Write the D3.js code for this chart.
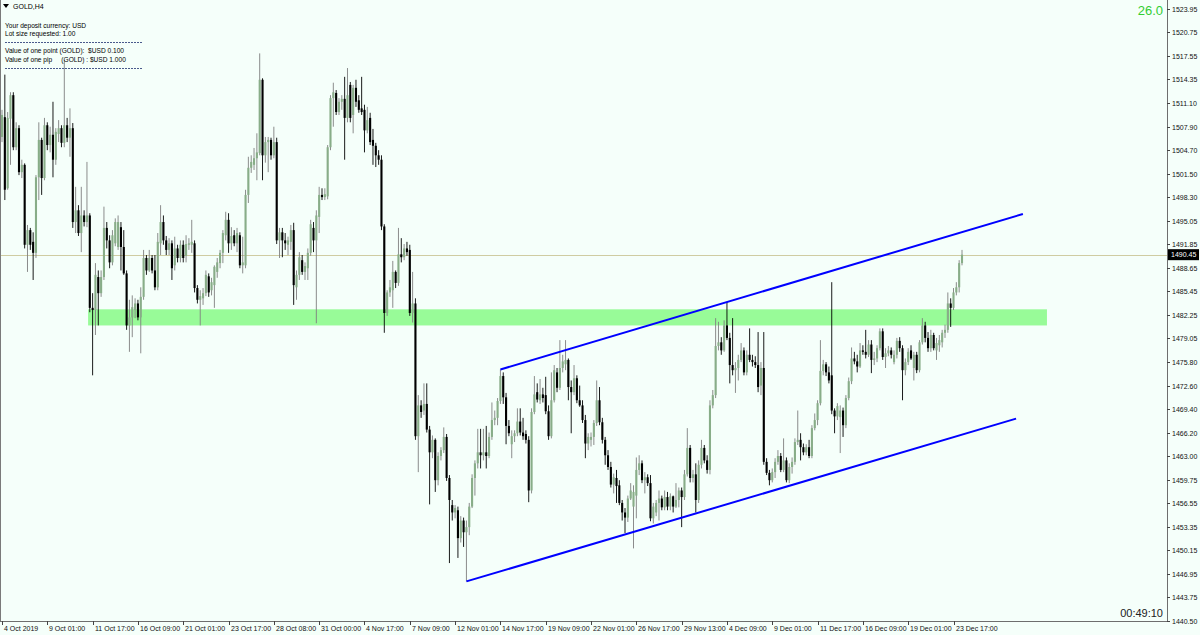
<!DOCTYPE html>
<html><head><meta charset="utf-8">
<script src="https://cdn.jsdelivr.net/npm/d3@7"></script>
<style>
html,body{margin:0;padding:0;background:#f5fffa;overflow:hidden;}
svg{display:block;}
text{font-family:"Liberation Sans",Arial,sans-serif;}
</style></head><body>
<svg id="chart" width="1200" height="635"></svg>
<script>
// ---------------- data (GOLD, H4) ----------------
const open = [
1506.5,1509.2,1499.5,1509.0,1512.2,1505.1,1507.7,1501.7,1502.7,1491.8,
1493.8,1492.2,1490.7,1501.0,1506.1,1500.9,1508.1,1505.4,1506.8,1503.4,
1506.9,1507.7,1505.7,1508.1,1506.4,1507.7,1494.9,1496.5,1493.4,1495.8,
1494.9,1495.8,1483.2,1482.9,1487.4,1485.2,1487.4,1494.1,1492.4,1489.4,
1492.0,1491.5,1494.2,1491.5,1487.9,1480.8,1481.9,1482.9,1483.8,1481.9,
1484.7,1490.0,1488.3,1490.0,1488.3,1486.0,1492.0,1494.9,1492.4,1491.1,
1492.0,1489.0,1491.3,1490.0,1491.8,1490.3,1491.8,1491.8,1492.0,1485.9,
1484.3,1484.5,1485.2,1487.5,1485.6,1486.3,1488.1,1489.3,1490.7,1493.1,
1495.2,1492.0,1493.1,1492.0,1493.1,1489.0,1489.0,1498.6,1502.3,1502.7,
1503.6,1504.3,1514.3,1504.0,1505.8,1506.1,1504.0,1505.8,1492.4,1493.5,
1492.4,1491.8,1492.2,1493.8,1486.0,1487.7,1489.7,1488.1,1488.6,1490.7,
1494.1,1492.4,1495.6,1498.6,1498.3,1498.4,1505.1,1511.8,1512.5,1509.9,
1511.3,1511.7,1509.1,1513.6,1509.5,1513.2,1511.5,1510.4,1510.2,1507.4,
1509.1,1506.1,1505.3,1504.0,1503.4,1494.3,1482.5,1485.3,1485.6,1488.1,
1486.6,1490.5,1490.1,1491.3,1491.1,1482.5,1483.8,1465.7,1469.9,1469.2,
1470.1,1466.6,1463.5,1465.2,1459.7,1463.0,1463.8,1465.6,1460.0,1456.3,
1455.3,1455.6,1451.8,1454.2,1452.6,1453.3,1456.1,1460.0,1462.0,1463.5,
1463.1,1463.5,1463.0,1465.6,1467.9,1468.2,1470.5,1473.9,1471.0,1467.1,
1464.6,1465.7,1466.1,1467.7,1466.2,1466.0,1465.2,1458.3,1469.0,1471.7,
1470.6,1471.4,1471.3,1469.1,1465.7,1470.6,1474.4,1472.3,1475.0,1475.5,
1476.1,1472.4,1471.7,1473.6,1470.6,1469.9,1467.9,1464.7,1465.2,1465.6,
1467.5,1470.6,1467.6,1465.2,1463.1,1461.5,1459.1,1460.0,1459.0,1456.6,
1455.3,1454.6,1457.2,1456.1,1457.6,1461.1,1462.0,1459.7,1460.1,1459.3,
1454.5,1455.3,1456.6,1457.2,1456.0,1457.4,1456.1,1457.5,1456.1,1457.0,
1458.3,1457.4,1460.5,1464.1,1460.0,1460.5,1457.0,1461.8,1464.1,1462.4,
1461.1,1469.9,1471.3,1478.0,1478.5,1477.4,1480.8,1479.1,1475.4,1474.7,
1475.0,1476.1,1477.4,1474.4,1476.8,1476.1,1475.8,1475.4,1472.6,1475.0,
1462.2,1460.7,1459.7,1460.8,1462.2,1463.0,1461.1,1462.4,1459.7,1461.5,
1462.2,1464.9,1465.2,1464.2,1463.5,1464.2,1463.0,1466.8,1467.9,1470.2,
1474.6,1475.5,1474.4,1474.0,1469.2,1468.4,1468.3,1469.2,1467.2,1470.9,
1473.2,1476.3,1475.9,1475.2,1477.4,1477.2,1476.8,1478.2,1476.1,1476.3,
1477.7,1480.0,1476.5,1477.0,1477.4,1475.8,1476.8,1478.7,1477.7,1474.7,
1475.8,1477.4,1475.0,1476.8,1474.7,1478.5,1480.8,1479.1,1477.7,1479.5,
1477.4,1478.1,1478.5,1479.8,1480.2,1483.8,1483.2,1485.3,1486.0,1489.3];
const high = [
1510.2,1515.0,1509.9,1512.6,1512.6,1508.5,1508.1,1503.4,1502.9,1494.5,
1494.1,1493.5,1501.3,1508.5,1506.4,1509.1,1508.5,1507.9,1511.3,1507.7,
1508.8,1508.1,1517.0,1509.1,1510.4,1508.4,1499.7,1497.2,1499.7,1496.5,
1503.1,1496.1,1485.2,1489.3,1488.3,1488.3,1497.0,1494.9,1493.1,1493.8,
1495.4,1495.8,1494.9,1493.8,1488.3,1484.3,1484.9,1484.5,1484.3,1486.0,
1491.1,1490.4,1491.1,1490.4,1490.4,1493.4,1497.2,1495.8,1493.0,1492.7,
1492.4,1492.9,1491.8,1492.4,1492.4,1493.1,1492.7,1495.2,1492.4,1486.3,
1485.6,1485.9,1488.3,1487.9,1487.3,1489.0,1490.0,1491.1,1493.8,1496.3,
1496.1,1494.2,1493.8,1494.1,1493.5,1492.9,1499.3,1503.8,1504.0,1505.0,
1507.0,1517.9,1514.5,1506.5,1506.5,1506.4,1507.9,1506.4,1494.1,1494.1,
1493.4,1492.9,1494.5,1494.8,1488.3,1490.8,1490.4,1489.4,1491.3,1495.2,
1494.9,1496.5,1499.7,1499.5,1499.5,1505.4,1512.2,1513.9,1512.9,1511.8,
1512.2,1514.7,1515.9,1514.0,1513.6,1514.3,1512.2,1514.7,1510.9,1510.6,
1509.8,1507.6,1505.7,1504.7,1504.0,1494.6,1485.6,1487.0,1489.6,1488.3,
1494.1,1492.7,1491.9,1492.2,1491.8,1488.1,1484.5,1471.3,1470.6,1472.9,
1472.9,1467.1,1465.8,1465.4,1463.5,1464.2,1466.9,1466.0,1460.4,1457.0,
1456.3,1456.1,1454.8,1454.6,1454.2,1456.6,1460.5,1462.4,1466.7,1466.7,
1466.7,1467.1,1466.2,1470.3,1469.2,1470.9,1474.8,1474.4,1471.6,1467.9,
1466.5,1466.5,1469.5,1469.5,1468.2,1466.5,1465.7,1469.5,1473.9,1472.9,
1473.5,1472.3,1473.8,1469.9,1474.4,1475.4,1475.0,1478.8,1476.8,1478.8,
1476.3,1473.3,1475.4,1474.0,1472.6,1470.6,1468.6,1466.1,1466.2,1467.9,
1473.3,1472.4,1468.2,1465.6,1463.8,1462.2,1460.6,1461.1,1459.7,1457.0,
1455.9,1457.6,1459.3,1459.0,1462.8,1463.1,1462.4,1460.8,1460.5,1460.4,
1456.6,1457.0,1458.3,1457.6,1458.3,1458.1,1457.9,1457.6,1459.3,1458.7,
1458.7,1461.1,1466.8,1464.5,1461.1,1462.0,1462.4,1465.2,1464.5,1463.1,
1470.6,1472.0,1481.8,1481.3,1479.2,1481.5,1484.0,1479.8,1481.8,1475.8,
1476.8,1478.4,1477.8,1477.4,1480.4,1476.8,1476.6,1479.9,1475.8,1479.9,
1462.7,1461.1,1461.3,1462.7,1463.8,1463.4,1465.4,1462.8,1462.0,1462.8,
1465.4,1469.2,1466.1,1464.7,1464.6,1465.2,1467.2,1468.8,1470.6,1478.8,
1476.1,1475.8,1475.2,1486.7,1469.5,1470.2,1469.9,1469.6,1471.3,1473.7,
1477.8,1477.2,1476.8,1478.4,1478.1,1480.2,1478.8,1478.8,1477.2,1478.1,
1480.4,1480.4,1477.7,1478.0,1477.8,1477.4,1479.1,1479.2,1478.1,1476.3,
1477.7,1478.1,1477.2,1477.2,1478.8,1481.8,1481.3,1479.9,1480.2,1479.8,
1479.1,1479.5,1480.2,1480.9,1485.3,1484.5,1485.9,1486.7,1489.7,1491.1];
const low = [
1505.8,1497.9,1499.3,1502.7,1504.7,1504.7,1501.3,1500.9,1491.3,1488.1,
1491.1,1487.0,1490.0,1497.9,1498.6,1500.6,1504.7,1504.4,1501.0,1502.7,
1505.8,1505.1,1505.1,1505.8,1503.8,1494.1,1493.4,1493.0,1490.8,1494.3,
1494.2,1482.6,1474.0,1479.5,1480.8,1484.7,1487.0,1491.3,1488.6,1489.0,
1491.6,1491.1,1488.3,1487.7,1480.2,1477.2,1479.2,1481.8,1481.5,1477.0,
1484.3,1487.7,1488.1,1487.9,1485.6,1485.6,1490.4,1491.8,1490.4,1490.4,
1487.0,1488.3,1489.4,1489.4,1489.4,1489.4,1491.1,1490.7,1485.3,1483.8,
1480.8,1483.6,1484.8,1484.7,1484.9,1483.2,1487.3,1488.6,1489.3,1492.4,
1490.7,1491.1,1491.6,1490.8,1488.6,1487.9,1488.6,1497.5,1501.6,1502.0,
1500.6,1504.0,1500.6,1503.0,1501.7,1503.4,1503.6,1491.9,1490.0,1490.1,
1491.1,1490.4,1491.1,1483.6,1484.3,1487.0,1487.7,1487.0,1487.0,1490.3,
1490.8,1481.1,1493.4,1497.9,1497.9,1498.0,1504.7,1507.9,1509.5,1509.5,
1510.2,1503.4,1508.5,1508.5,1507.0,1510.6,1509.8,1509.5,1504.4,1507.0,
1505.4,1502.7,1502.4,1502.7,1493.8,1479.8,1482.1,1484.7,1483.2,1485.9,
1486.2,1489.4,1489.7,1490.3,1482.1,1481.2,1465.2,1460.8,1468.2,1468.6,
1466.2,1456.4,1462.7,1458.1,1459.0,1462.4,1463.4,1459.6,1448.4,1454.2,
1454.5,1449.1,1451.2,1450.6,1445.9,1452.2,1455.9,1457.6,1461.3,1461.3,
1462.4,1461.3,1462.7,1465.2,1467.2,1467.2,1470.1,1470.1,1464.6,1465.7,
1462.7,1464.9,1465.7,1465.8,1465.2,1464.7,1456.7,1457.9,1468.7,1470.3,
1470.1,1470.3,1468.7,1465.2,1465.4,1470.3,1471.7,1472.0,1474.4,1474.7,
1470.6,1466.1,1471.3,1470.2,1469.7,1467.5,1462.7,1463.8,1464.3,1464.5,
1467.1,1467.2,1464.7,1461.8,1461.1,1458.7,1457.9,1456.6,1456.3,1454.2,
1452.5,1454.0,1457.0,1450.4,1454.5,1460.4,1459.3,1457.9,1458.9,1454.1,
1453.8,1454.8,1454.2,1455.6,1455.6,1455.6,1455.6,1455.3,1455.9,1456.0,
1453.3,1457.0,1460.2,1459.4,1459.4,1455.3,1456.6,1461.3,1462.0,1460.6,
1460.5,1469.5,1470.9,1477.4,1476.8,1477.2,1478.8,1472.9,1474.0,1471.6,
1473.3,1475.8,1474.0,1474.0,1475.8,1475.2,1475.0,1471.7,1471.3,1461.8,
1460.4,1459.0,1459.4,1460.0,1461.8,1460.8,1460.8,1459.4,1459.3,1460.6,
1461.8,1464.5,1462.4,1463.1,1463.1,1462.7,1462.7,1466.5,1467.2,1469.9,
1474.0,1473.9,1472.9,1468.7,1466.1,1467.9,1463.4,1465.6,1466.8,1470.6,
1472.8,1475.5,1474.4,1475.0,1476.8,1476.3,1476.5,1474.3,1475.4,1475.8,
1477.4,1476.1,1475.0,1476.6,1476.3,1475.5,1476.3,1477.2,1470.6,1474.0,
1475.4,1476.1,1473.3,1474.3,1474.4,1478.2,1478.5,1477.2,1477.2,1477.4,
1476.1,1477.2,1477.8,1479.1,1479.8,1480.6,1482.9,1484.9,1485.3,1489.0];
const close = [
1509.5,1499.3,1509.1,1512.2,1505.1,1507.7,1501.7,1502.7,1491.8,1493.8,
1491.8,1490.7,1501.0,1506.1,1500.9,1508.1,1505.4,1506.8,1503.4,1507.2,
1507.7,1505.7,1508.1,1506.4,1507.7,1494.9,1496.5,1493.4,1495.8,1494.9,
1495.8,1483.2,1482.9,1487.7,1485.2,1487.4,1494.1,1492.4,1489.4,1493.1,
1494.9,1494.9,1491.5,1487.9,1480.8,1481.9,1483.3,1483.8,1481.9,1484.7,
1490.0,1488.3,1490.0,1488.3,1486.0,1492.2,1494.9,1492.4,1491.1,1492.0,
1488.6,1491.3,1490.0,1491.8,1490.0,1491.9,1492.0,1492.2,1485.9,1484.3,
1484.8,1485.2,1487.7,1485.3,1486.7,1488.8,1489.4,1490.7,1493.4,1495.2,
1492.0,1493.0,1492.0,1493.4,1489.0,1489.4,1498.6,1502.3,1503.1,1503.6,
1504.4,1514.3,1504.0,1505.8,1506.1,1504.0,1505.8,1492.4,1493.5,1492.4,
1492.0,1492.4,1493.8,1486.3,1487.7,1490.1,1488.1,1488.9,1490.7,1494.6,
1492.4,1495.8,1498.6,1498.3,1498.7,1505.1,1511.8,1512.6,1509.9,1511.3,
1511.7,1509.1,1512.2,1509.1,1513.2,1511.3,1510.2,1509.9,1507.4,1508.8,
1505.8,1505.3,1504.0,1503.4,1494.3,1482.5,1485.3,1486.0,1488.1,1486.6,
1490.5,1490.1,1491.3,1490.8,1482.5,1483.8,1465.7,1469.9,1469.0,1470.1,
1466.6,1463.5,1465.2,1459.7,1463.0,1463.8,1465.6,1460.0,1457.0,1455.3,
1455.9,1451.8,1454.2,1452.6,1453.3,1456.1,1460.0,1462.0,1463.5,1463.1,
1463.5,1463.0,1465.6,1467.9,1468.2,1470.5,1473.9,1471.0,1467.1,1466.1,
1465.7,1466.1,1467.7,1466.2,1465.7,1465.2,1458.3,1469.0,1471.4,1470.7,
1471.4,1470.9,1469.1,1465.7,1470.6,1474.7,1472.3,1475.0,1475.9,1476.1,
1472.4,1471.7,1473.6,1470.6,1469.9,1467.9,1464.7,1465.6,1465.6,1467.5,
1470.6,1467.6,1465.2,1463.1,1461.5,1459.1,1460.1,1458.9,1456.6,1455.3,
1454.6,1457.2,1458.3,1458.1,1461.1,1462.0,1459.7,1460.1,1459.3,1454.5,
1456.1,1456.6,1457.2,1456.0,1457.4,1456.1,1457.5,1456.1,1457.0,1458.3,
1457.4,1460.5,1464.1,1460.0,1460.5,1457.0,1461.8,1464.1,1462.4,1461.1,
1469.9,1471.3,1478.0,1478.5,1477.4,1480.8,1479.1,1475.4,1474.7,1475.0,
1476.1,1477.4,1474.4,1476.8,1476.1,1475.8,1475.4,1472.4,1475.0,1462.2,
1460.7,1459.7,1460.8,1462.2,1463.0,1461.1,1462.4,1459.7,1461.5,1462.2,
1464.9,1465.2,1464.2,1463.5,1464.2,1463.0,1466.8,1467.9,1470.2,1474.6,
1475.5,1474.4,1473.3,1469.2,1468.4,1469.8,1469.2,1467.2,1470.9,1473.2,
1476.3,1475.9,1475.2,1477.4,1477.2,1476.8,1478.2,1476.1,1476.3,1477.7,
1480.0,1476.5,1477.0,1477.4,1476.8,1476.8,1478.7,1477.7,1474.7,1475.8,
1477.2,1476.3,1476.8,1474.7,1478.5,1480.8,1479.1,1477.7,1479.5,1477.7,
1478.4,1478.8,1479.8,1480.2,1483.8,1483.2,1485.3,1486.0,1489.3,1490.45];

// time axis labels, one every 16 H4 bars
const dateLabels = ["4 Oct 2019","9 Oct 01:00","11 Oct 17:00","16 Oct 09:00","21 Oct 01:00",
 "23 Oct 17:00","28 Oct 08:00","31 Oct 00:00","4 Nov 17:00","7 Nov 09:00","12 Nov 01:00",
 "14 Nov 17:00","19 Nov 09:00","22 Nov 01:00","26 Nov 17:00","29 Nov 13:00","4 Dec 09:00",
 "9 Dec 01:00","11 Dec 17:00","16 Dec 09:00","19 Dec 01:00","23 Dec 17:00"];
const labelEvery = 16;
const priceTicks = ["1523.95","1520.75","1517.55","1514.35","1511.10","1507.90","1504.70",
 "1501.50","1498.30","1495.05","1491.85","1488.65","1485.45","1482.25","1479.05","1475.80",
 "1472.60","1469.40","1466.20","1463.00","1459.75","1456.55","1453.35","1450.15","1446.95",
 "1443.75","1440.50"];
const priceRange = [1440.50, 1523.95];
const lastPrice = 1490.45;
// objects on the chart (bar index, price)
const zoneBars = [30.4, 369];
const zonePrices = [1480.8, 1483.0];
const upperChannel = [[176, 1474.8], [360.5, 1496.0]];
const lowerChannel = [[164, 1445.9], [358.1, 1468.1]];
const infoLines = ["Your deposit currency: USD", "Lot size requested: 1.00", "",
 "Value of one point (GOLD):  $USD 0.100", "Value of one pip     (GOLD) : $USD 1.000"];
const spreadText = "26.0";
const timerText = "00:49:10";
const symbolText = "GOLD,H4";

// ---------------- drawing ----------------
const W = 1200, H = 635;
const plotRight = 1167, plotBottom = 621;
const svg = d3.select("#chart");
svg.append("rect").attr("width", W).attr("height", H).attr("fill", "#f5fffa");

const n = close.length;
const x = d3.scaleLinear().domain([0, n - 1]).range([2, 962]);
const y = d3.scaleLinear().domain(priceRange).range([plotBottom, 9]);

const plot = svg.append("g");
svg.append("clipPath").attr("id", "clip").append("rect")
  .attr("x", 0).attr("y", 0).attr("width", plotRight).attr("height", plotBottom);
plot.attr("clip-path", "url(#clip)");

// green zone
plot.append("rect")
  .attr("x", x(zoneBars[0])).attr("width", x(zoneBars[1]) - x(zoneBars[0]))
  .attr("y", y(zonePrices[1])).attr("height", y(zonePrices[0]) - y(zonePrices[1]))
  .attr("fill", "#98fb98");

// bid line
plot.append("line").attr("x1", 0).attr("x2", plotRight)
  .attr("y1", Math.round(y(lastPrice)) + 0.5).attr("y2", Math.round(y(lastPrice)) + 0.5)
  .attr("stroke", "#cfcca2").attr("stroke-width", 1);

// candles
const idx = d3.range(n);
const cg = plot.append("g");
cg.selectAll("line.wick").data(idx).join("line")
  .attr("class", "wick")
  .attr("x1", i => x(i)).attr("x2", i => x(i))
  .attr("y1", i => y(Math.max(high[i], open[i], close[i])))
  .attr("y2", i => y(Math.min(low[i], open[i], close[i])))
  .attr("stroke", i => close[i] >= open[i] ? "#7f7f7f" : "#000")
  .attr("stroke-width", 0.9);
cg.selectAll("rect.body").data(idx).join("rect")
  .attr("class", "body")
  .attr("x", i => x(i) - 1.05).attr("width", 2.1)
  .attr("y", i => y(Math.max(open[i], close[i])))
  .attr("height", i => Math.max(1, Math.abs(y(open[i]) - y(close[i]))))
  .attr("fill", i => close[i] >= open[i] ? "#88ad88" : "#000");

// channel lines
const line = d3.line().x(d => x(d[0])).y(d => y(d[1]));
[upperChannel, lowerChannel].forEach(seg => {
  plot.append("path").attr("d", line(seg)).attr("fill", "none")
    .attr("stroke", "#0000ff").attr("stroke-width", 2);
});

// frame
svg.append("line").attr("x1", 0.5).attr("x2", 0.5).attr("y1", 0).attr("y2", plotBottom)
  .attr("stroke", "#7a7a7a");
svg.append("line").attr("x1", plotRight + 0.5).attr("x2", plotRight + 0.5).attr("y1", 0).attr("y2", plotBottom + 1)
  .attr("stroke", "#6e6e6e");
svg.append("line").attr("x1", 0).attr("x2", plotRight + 1).attr("y1", plotBottom + 0.5).attr("y2", plotBottom + 0.5)
  .attr("stroke", "#6e6e6e");

// price axis
const pa = svg.append("g");
priceTicks.forEach(t => {
  const yy = Math.round(y(+t)) + 0.5;
  pa.append("line").attr("x1", plotRight).attr("x2", plotRight + 3).attr("y1", yy).attr("y2", yy)
    .attr("stroke", "#444");
  pa.append("text").attr("x", plotRight + 5).attr("y", yy).attr("dy", "0.35em")
    .attr("font-size", "7px").attr("fill", "#111").text(t);
});
const by = y(lastPrice);
pa.append("rect").attr("x", plotRight + 1).attr("y", by - 5.5).attr("width", 31).attr("height", 11).attr("fill", "#000");
pa.append("text").attr("x", plotRight + 4).attr("y", by).attr("dy", "0.35em")
  .attr("font-size", "7px").attr("fill", "#fff").text(lastPrice.toFixed(2));

// time axis
const ta = svg.append("g");
dateLabels.forEach((d, k) => {
  const xx = Math.round(x(k * labelEvery)) + 0.5;
  ta.append("line").attr("x1", xx).attr("x2", xx).attr("y1", plotBottom).attr("y2", plotBottom + 4)
    .attr("stroke", "#444");
  ta.append("text").attr("x", xx + 1.5).attr("y", 631)
    .attr("font-size", "7px").attr("fill", "#111").text(d);
});

// header info
svg.append("path").attr("d", "M3,4 L9,4 L6,8 Z").attr("fill", "#000");
svg.append("text").attr("x", 13).attr("y", 9).attr("font-size", "7px").attr("fill", "#000").text(symbolText);
const infoY = [27.5, 36, 0, 53, 62];
infoLines.forEach((t, k) => {
  if (!t) return;
  svg.append("text").attr("x", 5).attr("y", infoY[k]).attr("font-size", "6.6px")
    .attr("fill", "#000").style("white-space", "pre").text(t);
});
[42.5, 68.5].forEach(yy => {
  svg.append("line").attr("x1", 5).attr("x2", 143).attr("y1", yy).attr("y2", yy)
    .attr("stroke", "#4a5a8c").attr("stroke-dasharray", "2,1");
});

svg.append("text").attr("x", 1163).attr("y", 15).attr("text-anchor", "end")
  .attr("font-size", "13px").attr("fill", "#32cd32").text(spreadText);
svg.append("text").attr("x", 1163).attr("y", 617).attr("text-anchor", "end")
  .attr("font-family", "DejaVu Sans").attr("font-size", "11px").attr("fill", "#222").text(timerText);
</script>
</body></html>
